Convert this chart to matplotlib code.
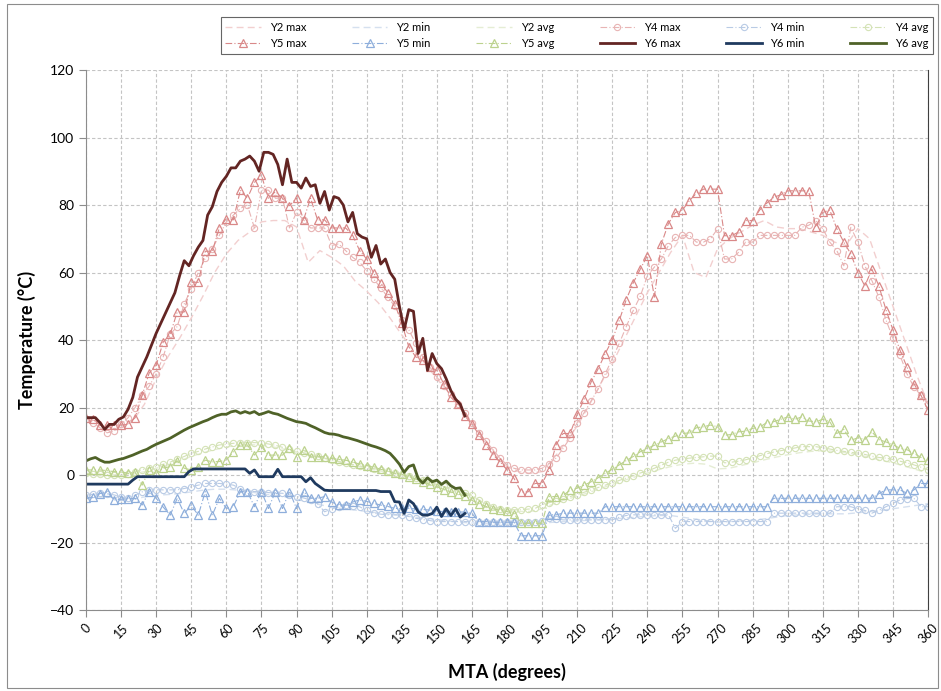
import numpy as np
import matplotlib
matplotlib.use("Agg")
import matplotlib.pyplot as plt
from matplotlib.patches import Rectangle

plt.rcParams['font.family'] = ['Lato', 'DejaVu Sans']

# ---- data ----
# Y2 series: every 5 degrees
y2_max = [17.5, 16, 14, 14, 16, 21, 28.5, 35, 40.5, 46.5, 53, 60, 65.5, 69.5, 72, 75, 75.4, 75.4,
          73.5, 63, 66.5, 64.5, 62, 57.5, 54.5, 51, 46.5, 41.5, 37, 33, 28.5, 24.5, 20.5, 15.5, 11, 6.5,
          2.5, 1, 0.5, 1, 5, 9.5, 14.5, 20.5, 27, 33, 40, 47, 54, 60, 66, 71, 60, 58.5,
          67, 70, 72, 74, 75.4, 73.5, 73, 73, 72, 71, 69, 68, 73, 70, 60, 50, 40, 30, 21]
y2_min = [-7, -6.5, -6.5, -7, -7.2, -6.5, -6, -5.8, -5.5, -5, -4.5, -4.2, -4.2, -4.5, -5, -5.5, -6, -6.5,
          -7.2, -8, -8.8, -9.5, -10, -10.4, -10.8, -11.2, -11.6, -12, -12.4, -12.8, -13.2, -13.6, -14, -14.2, -14.4, -14.5,
          -14.5, -14.5, -14.4, -14.2, -14, -13.8, -13.6, -13.4, -13.2, -13, -12.8, -12.5, -12.2, -12, -12, -12.5, -13, -13.5,
          -14, -13.8, -13.6, -13.4, -13, -12.5, -12, -11.8, -11.6, -11.5, -11.5, -11.5, -11.2, -10.8, -10.5, -10, -9.5, -9, -8.5]
y2_avg = [0, -0.2, -0.5, -0.3, 0.3, 1, 2, 3, 4.2, 5.5, 6.6, 7.5, 8.3, 8.8, 9, 8.8, 8.3, 7.6,
          6.8, 6, 5.2, 4.4, 3.6, 2.8, 2, 1.3, 0.6, -0.2, -1, -2, -3, -4, -5, -6.3, -8, -9.5,
          -10.5, -10.8, -10.8, -10, -8.5, -7.3, -6.3, -5.2, -4, -2.8, -1.6, -0.5, 0.6, 1.6, 2.5, 3.2, 3.5, 3.2,
          1.8, 2, 2.8, 3.6, 4.5, 5.3, 6, 6.6, 7, 7.2, 7, 6.6, 6, 5.2, 4.4, 3.6, 2.6, 1.6, 0.5]

# Y4 / Y5 series: every 3 degrees
y4_max = [16.7, 15.5, 14, 12.5, 13, 15, 17, 20, 23.6, 26.3,
          30, 35, 41.7, 44, 50.7, 55.2, 60, 64.2, 67, 71,
          75, 77, 79, 80, 73.2, 84.4, 84.4, 82, 82, 73.2,
          77.8, 75.6, 73.2, 73.2, 73.2, 68, 68.5, 66.5, 64.5, 63,
          60.5, 58, 55.5, 52.7, 50, 46, 43, 39, 35, 32,
          29, 26.5, 24, 21, 18.5, 15.5, 12.5, 10, 7.5, 5,
          3, 2, 1.5, 1.5, 1.5, 2, 3.4, 5, 7.9, 11,
          15.5, 18.5, 22, 25.5, 30, 34.5, 39, 44, 48.8, 53,
          59, 61.6, 64, 68, 70.4, 71, 71, 69, 69, 70,
          72.9, 64, 64, 66, 69, 69, 71, 71, 71, 71,
          71, 71, 73.4, 74, 75.4, 73, 69, 66.5, 62, 73.4,
          69, 62, 57.6, 52.7, 46, 40.5, 35.5, 30, 26, 23.6,
          21]
y4_min = [-6, -5.7, -5.4, -5.6, -5.9, -6.5, -6.9, -6, -5, -4.4,
          -4.4, -4.4, -4.4, -4.4, -4, -3.5, -3, -2.5, -2.5, -2.5,
          -2.7, -3, -4, -4.9, -4.9, -4.9, -5.2, -5.4, -5.4, -5.9,
          -6.4, -6.8, -7.4, -8.5, -10.9, -10, -9.5, -8.9, -9.2, -9.4,
          -10.5, -11.3, -11.6, -11.8, -11.8, -11.8, -12.3, -12.8, -13.2, -13.5,
          -13.8, -13.8, -13.8, -13.8, -13.8, -13.8, -13.8, -13.8, -13.9, -14,
          -14, -14, -14, -14, -14, -13.5, -12.8, -13, -13.3, -13.3,
          -13.3, -13.3, -13.3, -13.3, -13.3, -13.3, -12.5, -12, -11.8, -11.8,
          -11.8, -11.8, -11.8, -11.8, -15.8, -13.8, -13.8, -13.8, -13.8, -13.8,
          -13.8, -13.8, -13.8, -13.8, -13.8, -13.8, -13.8, -13.8, -11.3, -11.3,
          -11.3, -11.3, -11.3, -11.3, -11.3, -11.3, -11.3, -9.4, -9.4, -9.4,
          -10, -10.5, -11.3, -10.5, -9.4, -8.4, -7.4, -7, -6.9, -9.4,
          -9.4]
y4_avg = [0.5, 0.4, 0.2, 0.1, 0, 0.1, 0.3, 1, 1.6, 2.1,
          2.5, 3.2, 3.8, 4.7, 5.5, 6.4, 7, 7.7, 8.3, 8.9,
          9.1, 9.4, 9.5, 9.6, 9.6, 9.5, 9.2, 8.8, 8.2, 7.6,
          7.1, 6.6, 6.1, 5.6, 5, 4.5, 4, 3.5, 3.1, 2.7,
          2.3, 1.9, 1.5, 1.1, 0.7, 0.3, -0.2, -0.8, -1.5, -2.2,
          -2.8, -3.4, -4, -4.6, -5.2, -6, -7.5, -8.6, -9.5, -10.1,
          -10.3, -10.3, -10.3, -10.1, -9.9, -8.8, -8.2, -7.6, -7.1, -6.4,
          -5.8, -5.1, -4.4, -3.7, -3, -2.3, -1.6, -0.9, -0.2, 0.6,
          1.2, 2, 2.9, 3.8, 4.4, 4.7, 5, 5.2, 5.4, 5.6,
          5.6, 3.6, 3.8, 4.1, 4.5, 5.1, 5.7, 6.3, 6.8, 7.2,
          7.6, 8, 8.4, 8.4, 8.4, 8.1, 7.7, 7.3, 7, 6.7,
          6.5, 6.1, 5.6, 5.2, 5, 4.6, 4.1, 3.6, 3, 2.3,
          1.5]
y5_max = [17, 16.5, 14.8, 14.8, 14.8, 14.8, 15, 17, 23.6, 30.2,
          32.5, 39.4, 41.7, 48.3, 48.3, 57.1, 57.1, 66.3, 66.3, 73.2,
          76, 75.6, 84.4, 82, 86.7, 88.8, 82, 84, 82, 79.8,
          82, 75.6, 82, 75.6, 75.6, 73.2, 73.2, 73.2, 71, 66.5,
          64, 59.8, 57, 54, 50.7, 45, 38, 35, 34, 32,
          31, 27, 23, 21, 17.5, 15, 12, 9, 6, 4,
          1.5, -1, -5, -5, -2.5, -2.5, 1.5, 9, 12.3, 12.3,
          18, 22.5, 27.6, 31.5, 36, 40, 45.8, 52, 57, 61,
          65, 52.7, 68.5, 74.5, 77.8, 78.5, 81.3, 83.5, 84.7, 84.7,
          84.7, 70.9, 70.9, 72, 75.4, 75.4, 78.5, 80.5, 82.3, 83,
          84.2, 84.2, 84.2, 84.2, 73.4, 77.8, 78.5, 73, 69, 65.5,
          60, 56, 61, 56, 49, 43, 37, 32, 27, 23.6,
          19.2]
y5_min = [-6.9, -6.6, -5.5, -5, -7.4, -7.2, -7, -6.9, -8.9, -4.9,
          -6.9, -9.5, -11.9, -6.9, -11.4, -9, -11.9, -4.9, -11.9, -6.9,
          -9.9, -9.4, -4.9, -4.9, -9.4, -4.9, -9.9, -4.9, -9.9, -4.9,
          -9.9, -4.9, -6.9, -6.9, -6.4, -8, -8.9, -8.9, -8, -7.4,
          -7.8, -8.4, -8.9, -9.3, -9.9, -9.9, -9.9, -10, -10.2, -10.4,
          -10.6, -10.9, -10.9, -10.9, -11, -11.4, -13.8, -13.8, -14, -14,
          -14, -14, -18, -18, -18, -18, -11.8, -11.8, -11.3, -11.3,
          -11.3, -11.3, -11.3, -11.3, -9.4, -9.4, -9.4, -9.4, -9.4, -9.4,
          -9.4, -9.4, -9.4, -9.4, -9.4, -9.4, -9.4, -9.4, -9.4, -9.4,
          -9.4, -9.4, -9.4, -9.4, -9.4, -9.4, -9.4, -9.4, -6.9, -6.9,
          -6.9, -6.9, -6.9, -6.9, -6.9, -6.9, -6.9, -6.9, -6.9, -6.9,
          -6.9, -6.9, -6.9, -5.5, -4.4, -4.4, -4.4, -5.4, -4.4, -2.5,
          -2.5]
y5_avg = [1.5, 1.5, 1.5, 1.3, 1, 1, 0.5, 0.8, -3, 1.5,
          0.5, 2, 2.5, 4.2, 2, 1.5, 2.5, 4.4, 3.9, 4,
          4.4, 6.9, 8.9, 8.9, 5.9, 8.4, 5.9, 5.9, 5.9, 7.9,
          5.4, 7.4, 5.4, 5.4, 5.4, 4.9, 4.6, 4.4, 3.9, 3.2,
          2.8, 2.3, 1.7, 1.2, 0.5, 0.2, -0.5, -1.2, -2, -2.8,
          -3.5, -4.3, -5, -5.6, -6.2, -7.5, -8.5, -9.3, -10, -10.5,
          -10.8, -11.5, -14.3, -14.3, -14.3, -14.3, -6.4, -6.4, -6, -4.5,
          -3.9, -3, -2, -0.8, 0.5, 1.7, 3, 4.3, 5.5, 6.9,
          7.9, 8.8, 9.8, 10.8, 11.5, 12.3, 12.5, 14, 14.3, 14.8,
          14.3, 11.8, 12, 12.8, 13, 13.8, 14.2, 15.5, 15.8, 16.5,
          17.2, 16.5, 17.2, 16, 15.8, 16.5, 15.8, 12.3, 13.5, 10.3,
          11, 10.5, 12.8, 10.5, 9.8, 9, 7.9, 7.5, 6.4, 5.2,
          4.4]

# Y6 series: every 2 degrees, 0..162
y6_max = [17, 17, 17, 15.5, 13.5, 15, 15, 16.5, 17.2, 19.5,
          23, 29, 32, 35, 38.5, 42, 45, 48, 51, 54,
          59, 63.5, 62, 65, 67.5, 69.5, 77, 79.5, 84, 86.7,
          88.5, 91, 91, 93, 93.6, 94.5, 93, 90, 95.6, 95.6,
          95, 92, 86, 93.6, 86.7, 86.7, 85, 88, 85.5, 86,
          80.5, 84, 78.5, 82.5, 82, 80, 75, 77.8, 71.5, 70.5,
          70, 64.5, 68, 62.5, 64, 60, 58, 50, 43, 49,
          48.5, 36, 40.5, 31, 36, 33, 31.5, 28.5, 25, 22.5,
          21, 17.5]
y6_min = [-2.7, -2.7, -2.7, -2.7, -2.7, -2.7, -2.7, -2.7, -2.7, -2.7,
          -1.5, -0.5, -0.5, -0.5, -0.5, -0.5, -0.5, -0.5, -0.5, -0.5,
          -0.5, -0.5, 1, 1.8, 1.8, 1.8, 1.8, 1.8, 1.8, 1.8,
          1.8, 1.8, 1.8, 1.8, 1.8, 0.5, 1.5, -0.5, -0.5, -0.5,
          -0.5, 1.7, -0.5, -0.5, -0.5, -0.5, -0.5, -2, -0.8, -2.5,
          -3.5, -4.5, -4.6, -4.6, -4.6, -4.6, -4.6, -4.6, -4.6, -4.6,
          -4.6, -4.6, -4.6, -4.9, -4.9, -4.9, -7.9, -8, -11.4, -7.4,
          -8.5, -10.9, -11.9, -11.9, -11.4, -9.5, -12.3, -10, -12, -10,
          -12.5, -11.4]
y6_avg = [4.2, 4.8, 5.2, 4.4, 3.8, 3.8, 4.2, 4.6, 4.9, 5.4,
          5.9, 6.5, 7.1, 7.6, 8.4, 9.1, 9.7, 10.3, 10.9, 11.7,
          12.5, 13.3, 14, 14.6, 15.2, 15.8, 16.3, 17, 17.6, 18,
          18, 18.7, 19, 18.3, 18.8, 18.3, 18.8, 17.9, 18.3, 18.8,
          18.3, 18, 17.4, 16.8, 16.3, 15.8, 15.6, 15.3, 14.6, 14,
          13.3, 12.6, 12.2, 12.1, 11.8, 11.3, 11, 10.6, 10.2, 9.7,
          9.2, 8.7, 8.3, 7.8, 7.2, 6.4, 4.9, 3.2, 0.8, 2.5,
          3, -1, -2.4, -0.8, -2, -1.5, -2.8, -1.8, -3.2, -4,
          -3.8, -6]

x_y2 = np.arange(len(y2_max)) * 5
x_y45 = np.arange(len(y5_max)) * 3
x_y6 = np.arange(len(y6_max)) * 2

fig = plt.figure(figsize=(9.41, 6.91), dpi=100)
ax = fig.add_axes([0.0914, 0.1172, 0.8948, 0.7815])

# outer chart border
fig.patches.append(Rectangle((0.007, 0.004), 0.99, 0.99, transform=fig.transFigure,
                             fill=False, edgecolor='#8c8c8c', linewidth=0.8))

dash = (0, (5, 3))
dashdot = (0, (6, 2, 1, 2))

h = {}
h['Y2 max'], = ax.plot(x_y2, y2_max, linestyle=dash, color='#f2cfcf', lw=1.0, label='Y2 max')
h['Y2 min'], = ax.plot(x_y2, y2_min, linestyle=dash, color='#d5e0ef', lw=1.0, label='Y2 min')
h['Y2 avg'], = ax.plot(x_y2, y2_avg, linestyle=dash, color='#e5edd4', lw=1.0, label='Y2 avg')

h['Y4 max'], = ax.plot(x_y45, y4_max, linestyle=dashdot, color='#e8b4b4', lw=0.8, marker='o',
                       ms=4.5, mfc='none', mew=0.8, label='Y4 max')
h['Y4 min'], = ax.plot(x_y45, y4_min, linestyle=dashdot, color='#b9cbe5', lw=0.8, marker='o',
                       ms=4.5, mfc='none', mew=0.8, label='Y4 min')
h['Y4 avg'], = ax.plot(x_y45, y4_avg, linestyle=dashdot, color='#d4e2b6', lw=0.8, marker='o',
                       ms=4.5, mfc='none', mew=0.8, label='Y4 avg')

h['Y5 max'], = ax.plot(x_y45, y5_max, linestyle=dashdot, color='#d98888', lw=0.8, marker='^',
                       ms=6, mfc='none', mew=0.9, label='Y5 max')
h['Y5 min'], = ax.plot(x_y45, y5_min, linestyle=dashdot, color='#8eaedb', lw=0.8, marker='^',
                       ms=6, mfc='none', mew=0.9, label='Y5 min')
h['Y5 avg'], = ax.plot(x_y45, y5_avg, linestyle=dashdot, color='#bcd28e', lw=0.8, marker='^',
                       ms=6, mfc='none', mew=0.9, label='Y5 avg')

h['Y6 max'], = ax.plot(x_y6, y6_max, color='#632523', lw=2.0, label='Y6 max')
h['Y6 min'], = ax.plot(x_y6, y6_min, color='#1f3a5f', lw=2.0, label='Y6 min')
h['Y6 avg'], = ax.plot(x_y6, y6_avg, color='#4f6228', lw=2.0, label='Y6 avg')

ax.set_xlim(0, 360)
ax.set_ylim(-40, 120)
ax.set_xticks(np.arange(0, 361, 15))
ax.set_yticks(np.arange(-40, 121, 20))
ax.grid(True, color='#c4c4c4', linestyle=(0, (3, 2)), linewidth=0.8)
ax.set_axisbelow(True)

for s in ['left', 'bottom']:
    ax.spines[s].set_color('#8c8c8c')
ax.spines['top'].set_visible(False)
ax.spines['right'].set_color('#404040')
ax.tick_params(axis='both', direction='out', length=5, color='#8c8c8c', labelsize=10)
ax.tick_params(axis='x', labelrotation=45, labelsize=9)
for lab in ax.get_xticklabels():
    lab.set_ha('center')

ax.set_xlabel('MTA (degrees)', fontsize=13, fontweight='bold', labelpad=12)
ax.set_ylabel('Temperature (°C)', fontsize=13, fontweight='bold', labelpad=10)

order = ['Y2 max', 'Y5 max', 'Y2 min', 'Y5 min', 'Y2 avg', 'Y5 avg',
         'Y4 max', 'Y6 max', 'Y4 min', 'Y6 min', 'Y4 avg', 'Y6 avg']
leg = fig.legend([h[k] for k in order], order, ncol=6, mode='expand', loc='center',
                 bbox_to_anchor=(0.229, 0.918, 0.768, 0.061), fontsize=8, frameon=True,
                 fancybox=False, edgecolor='#404040', handlelength=3.2, columnspacing=1.0)
leg.get_frame().set_linewidth(0.8)

fig.savefig('out.png', dpi=100)
